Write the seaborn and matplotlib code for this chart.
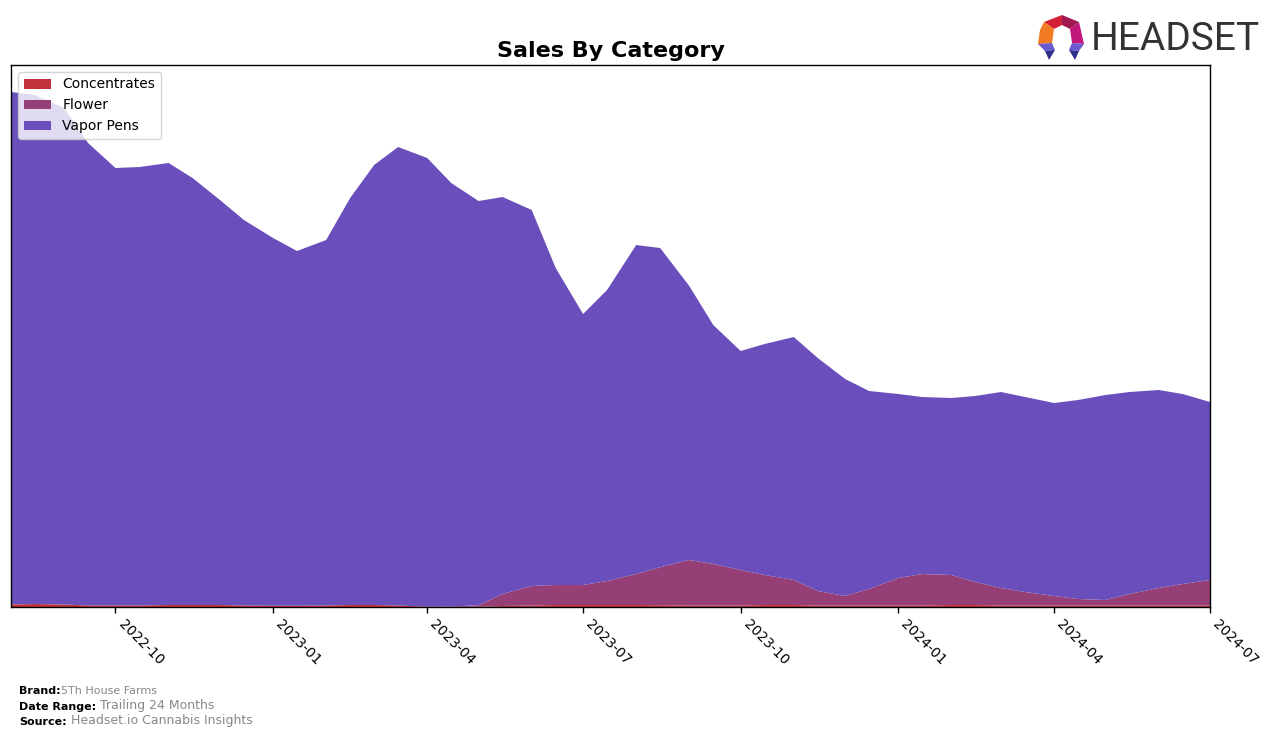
import numpy as np
import pandas as pd
import matplotlib
matplotlib.use("Agg")
import matplotlib.pyplot as plt
import matplotlib.dates as mdates
from matplotlib.patches import Polygon
import seaborn as sns

# ---------------- data (semi-monthly readings, arbitrary sales units) ----------------
dates = pd.date_range("2022-08-01", "2024-07-01", freq="SMS")
categories = ["Concentrates", "Flower", "Vapor Pens"]

concentrates = [2.5, 3, 2.5, 1.5, 1.5, 1.5, 2, 2, 2, 1.5, 1.2, 1.2, 1.5, 2, 2, 1.5,
                0.3, 0, 0.3, 1, 1.5, 2, 2, 2, 2, 1.8, 1.5, 1.5, 1.5, 2, 2, 1.5,
                1.5, 1.5, 1.5, 1.5, 2, 2, 1.5, 1.5, 1.5, 1.5, 1.5, 1.5, 1.5, 1.5, 1.5]

flower = [0, 0, 0, 0, 0, 0, 0, 0, 0, 0, 0, 0, 0, 0, 0, 0,
          0, 0.5, 1.5, 12, 19.5, 20, 20, 24, 31, 38, 45.5, 41.5, 35.5, 30, 25, 14.5,
          9.5, 16.5, 27.5, 31.5, 30, 23, 17.5, 13.5, 9.5, 6.5, 5.5, 11.5, 17.5, 21.5, 25.5]

vapor_pens = [512.5, 509, 496.5, 462.5, 437.5, 438.5, 442, 427, 405, 385.5, 367.8, 354.8,
              365.5, 407, 440, 458.5, 448.7, 423.5, 404.2, 397, 376, 317, 271, 291,
              329, 319.2, 274, 239, 219, 231, 243, 233, 217, 198, 184, 177,
              177, 186, 196, 195, 193, 199, 205, 202, 198, 190, 178]

tick_dates = ["2022-10-01", "2023-01-01", "2023-04-01", "2023-07-01",
              "2023-10-01", "2024-01-01", "2024-04-01", "2024-07-01"]

colors = ["#C0333A", "#963F76", "#6A4EBC"]

# ---------------- figure ----------------
sns.set_theme(style="white")
plt.rcParams["font.family"] = ["DejaVu Sans"]
plt.rcParams["text.color"] = "black"
plt.rcParams["axes.labelcolor"] = "black"
plt.rcParams["xtick.color"] = "black"
plt.rcParams["ytick.color"] = "black"
plt.rcParams["patch.edgecolor"] = "none"

fig = plt.figure(figsize=(12.76, 7.38), dpi=100)
ax = fig.add_axes([11 / 1276, 131 / 738, 1199 / 1276, 542 / 738])

ax.stackplot(dates, concentrates, flower, vapor_pens, colors=colors, labels=categories,
             linewidth=0, edgecolor="none")

ax.set_xlim(pd.Timestamp("2022-08-01"), pd.Timestamp("2024-07-01"))
ax.set_ylim(0, 542)
ax.set_yticks([])
ax.set_xticks(pd.to_datetime(tick_dates))
ax.xaxis.set_major_formatter(mdates.DateFormatter("%Y-%m"))
ax.tick_params(axis="x", direction="out", length=4, width=1, colors="black",
               labelsize=10, bottom=True)
plt.setp(ax.get_xticklabels(), rotation=-45, ha="left")
for s in ax.spines.values():
    s.set_color("black")
    s.set_linewidth(1)

ax.set_title("Sales By Category", fontsize=16, fontweight="bold", pad=6, color="black")

leg = ax.legend(loc="upper left", fontsize=10, frameon=True, fancybox=True,
                framealpha=0.8, edgecolor="#cccccc")
for t in leg.get_texts():
    t.set_color("black")

# ---------------- footer ----------------
def footer(y, label, value, vsize, sep):
    t = fig.text(19 / 1276, y, label, fontsize=8, fontweight="bold", color="black",
                 va="baseline")
    ax.annotate(sep + value, xy=(1, 0), xycoords=t, va="bottom", ha="left",
                fontsize=vsize, color="#888888", annotation_clip=False)

footer(1 - 694 / 738, "Brand:", "5Th House Farms", 8, "")
footer(1 - 710 / 738, "Date Range:", "Trailing 24 Months", 9, " ")
footer(1 - 725 / 738, "Source:", "Headset.io Cannabis Insights", 9, " ")

# ---------------- logo ----------------
fig.text(1091 / 1276, 1 - 39 / 738, "HEADSET", fontsize=28, color="#333333",
         family=["Roboto", "DejaVu Sans"], va="center", ha="left")

lax = fig.add_axes([1036 / 1276, 1 - 62 / 738, 50 / 1276, 50 / 738])
lax.set_xlim(1036, 1086)
lax.set_ylim(62, 12)
lax.axis("off")
shapes = [
    ([(1044, 22), (1062, 15), (1062, 25), (1054, 29)], "#D42035"),
    ([(1062, 15), (1079, 22), (1070, 29), (1062, 25)], "#A01850"),
    ([(1044, 22), (1054, 29), (1052, 43), (1038, 44), (1040, 30)], "#F27A20"),
    ([(1079, 22), (1084, 44), (1072, 43), (1070, 29)], "#C2187E"),
    ([(1038, 44), (1052, 43), (1055, 50), (1045, 51)], "#6A5ACD"),
    ([(1045, 51), (1055, 50), (1049, 60)], "#2E2F8A"),
    ([(1084, 44), (1072, 43), (1069, 50), (1079, 51)], "#6A5ACD"),
    ([(1079, 51), (1069, 50), (1075, 60)], "#2E2F8A"),
]
for pts, c in shapes:
    lax.add_patch(Polygon(pts, closed=True, facecolor=c, edgecolor="none"))

fig.savefig("out.png", dpi=100, facecolor="white")
